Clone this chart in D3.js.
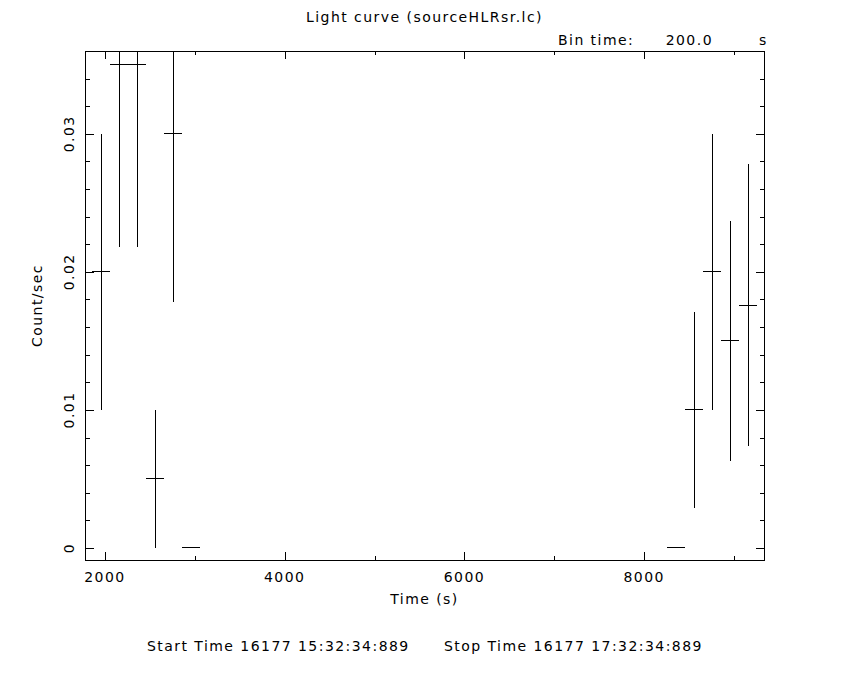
<!DOCTYPE html>
<html>
<head>
<meta charset="utf-8">
<script src="https://cdn.jsdelivr.net/npm/d3@7"></script>
<style>
  body { margin:0; background:#fff; }
  svg text { font-family:"DejaVu Sans", sans-serif; font-size:14px; fill:#000; letter-spacing:1.45px; }
  .axis path, .axis line, .bar { stroke:#000; stroke-width:1; shape-rendering:crispEdges; }
</style>
</head>
<body>
<div id="chart"></div>
<script>
// bin centres (s), rates (count/sec) and 1-sigma errors
var binTime = [1958, 2158, 2358, 2558, 2758, 2958, 8358, 8558, 8758, 8958, 9158];
var rate    = [0.0200, 0.0350, 0.0350, 0.0050, 0.0300, 0, 0, 0.0100, 0.0200, 0.0150, 0.0176];
var rateErr = [0.0100, 0.0132, 0.0132, 0.0050, 0.0122, 0, 0, 0.0071, 0.0100, 0.0087, 0.0102];
var halfBin = 100;

var xMajor = [2000, 4000, 6000, 8000];
var xMinor = [2000, 3000, 4000, 5000, 6000, 7000, 8000, 9000];
var yMajor = [0, 0.01, 0.02, 0.03];
var yMinor = d3.range(0, 19).map(function (i) { return +(i * 0.002).toFixed(3); });

function drawLightCurve() {
    var width = 850, height = 680;
    var plotL = 85, plotR = 764, plotT = 51, plotB = 560;

    var svg = d3.select("#chart").append("svg")
        .attr("width", width)
        .attr("height", height);

    var x = d3.scaleLinear().domain([1778, 9333]).range([plotL, plotR]);
    var y = d3.scaleLinear().domain([-0.00087, 0.0360]).range([plotB, plotT]);

    // frame
    svg.append("rect")
        .attr("class", "bar")
        .attr("x", plotL).attr("y", plotT)
        .attr("width", plotR - plotL).attr("height", plotB - plotT)
        .attr("fill", "none");

    function addAxis(axis, tx, ty) {
        svg.append("g")
            .attr("class", "axis")
            .attr("transform", "translate(" + tx + "," + ty + ")")
            .call(axis)
            .call(function (g) { g.select(".domain").remove(); });
    }

    // ticks point inward on all four sides
    addAxis(d3.axisBottom(x).tickValues(xMinor).tickSize(-4).tickFormat(""), 0, plotB);
    addAxis(d3.axisBottom(x).tickValues(xMajor).tickSize(-8).tickFormat(""), 0, plotB);
    addAxis(d3.axisTop(x).tickValues(xMinor).tickSize(-4).tickFormat(""), 0, plotT);
    addAxis(d3.axisTop(x).tickValues(xMajor).tickSize(-8).tickFormat(""), 0, plotT);
    addAxis(d3.axisLeft(y).tickValues(yMinor).tickSize(-5).tickFormat(""), plotL, 0);
    addAxis(d3.axisLeft(y).tickValues(yMajor).tickSize(-9).tickFormat(""), plotL, 0);
    addAxis(d3.axisRight(y).tickValues(yMinor).tickSize(-4).tickFormat(""), plotR, 0);
    addAxis(d3.axisRight(y).tickValues(yMajor).tickSize(-8).tickFormat(""), plotR, 0);

    // tick labels
    svg.selectAll(".xlab").data(xMajor).enter().append("text")
        .attr("x", function (d) { return x(d); })
        .attr("y", 582)
        .attr("text-anchor", "middle")
        .text(function (d) { return d; });

    svg.selectAll(".ylab").data(yMajor).enter().append("text")
        .attr("transform", function (d) { return "translate(74," + y(d) + ") rotate(-90)"; })
        .attr("text-anchor", "middle")
        .text(function (d) { return d === 0 ? "0" : d3.format(".2f")(d); });

    // error crosses
    svg.append("clipPath").attr("id", "plotclip")
        .append("rect")
        .attr("x", plotL).attr("y", plotT)
        .attr("width", plotR - plotL).attr("height", plotB - plotT);

    var marks = svg.append("g").attr("clip-path", "url(#plotclip)");

    marks.selectAll(".hbar").data(binTime).enter().append("line")
        .attr("class", "bar")
        .attr("x1", function (d) { return x(d - halfBin); })
        .attr("x2", function (d) { return x(d + halfBin); })
        .attr("y1", function (d, i) { return y(rate[i]); })
        .attr("y2", function (d, i) { return y(rate[i]); });

    marks.selectAll(".vbar").data(binTime).enter().append("line")
        .attr("class", "bar")
        .attr("x1", function (d) { return x(d); })
        .attr("x2", function (d) { return x(d); })
        .attr("y1", function (d, i) { return y(rate[i] - rateErr[i]); })
        .attr("y2", function (d, i) { return y(rate[i] + rateErr[i]); });

    // titles
    var cx = (plotL + plotR) / 2;
    svg.append("text").attr("x", cx).attr("y", 22).attr("text-anchor", "middle")
        .text("Light curve (sourceHLRsr.lc)");
    svg.append("text").attr("x", 558).attr("y", 45).text("Bin time:");
    svg.append("text").attr("x", 713).attr("y", 45).attr("text-anchor", "end").text("200.0");
    svg.append("text").attr("x", 759).attr("y", 45).text("s");

    svg.append("text").attr("x", cx).attr("y", 604).attr("text-anchor", "middle").text("Time (s)");
    svg.append("text").attr("transform", "translate(42," + (plotT + plotB) / 2 + ") rotate(-90)")
        .attr("text-anchor", "middle").text("Count/sec");

    svg.append("text").attr("x", 147).attr("y", 651).text("Start Time 16177 15:32:34:889");
    svg.append("text").attr("x", 444).attr("y", 651).text("Stop Time 16177 17:32:34:889");
}

drawLightCurve();
</script>
</body>
</html>
